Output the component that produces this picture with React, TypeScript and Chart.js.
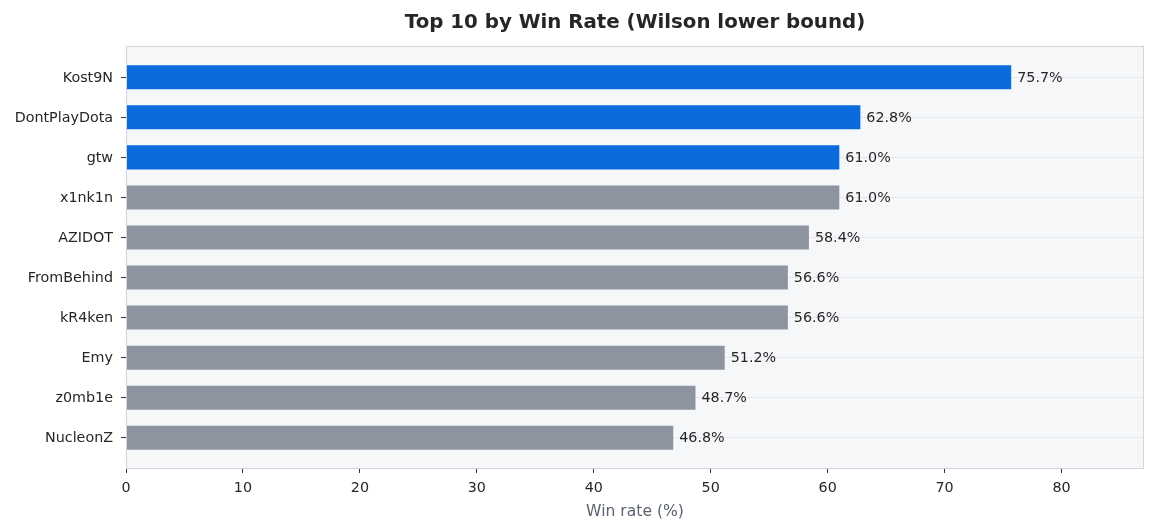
import React, { useEffect, useRef } from "react";
import { Chart, registerables } from "chart.js";

Chart.register(...registerables);

const players = ["Kost9N", "DontPlayDota", "gtw", "x1nk1n", "AZIDOT", "FromBehind", "kR4ken", "Emy", "z0mb1e", "NucleonZ"];
const winRates = [75.7, 62.8, 61.0, 61.0, 58.4, 56.6, 56.6, 51.2, 48.7, 46.8];
const highlightCount = 3;
const xTicks = [0, 10, 20, 30, 40, 50, 60, 70, 80];

const FONT = "'DejaVu Sans', sans-serif";
const BLUE = "#0b6bdc";
const GRAY = "#8e949f";

const W = 1157;
const H = 531;
const AREA = { left: 126, right: 1144, top: 46, bottom: 469 };

export default function App() {
  const ref = useRef<HTMLCanvasElement | null>(null);

  useEffect(() => {
    const canvas = ref.current;
    if (!canvas) return;

    const bgPlugin = {
      id: "plotBg",
      beforeDraw(chart: any) {
        const { ctx, chartArea } = chart;
        ctx.save();
        ctx.fillStyle = "#f6f7f9";
        ctx.fillRect(chartArea.left, chartArea.top, chartArea.right - chartArea.left, chartArea.bottom - chartArea.top);
        ctx.restore();
      },
      afterDraw(chart: any) {
        const { ctx, chartArea } = chart;
        ctx.save();
        ctx.strokeStyle = "#d0d6e0";
        ctx.lineWidth = 1;
        ctx.strokeRect(chartArea.left + 0.5, chartArea.top + 0.5, chartArea.right - chartArea.left - 1, chartArea.bottom - chartArea.top - 1);
        ctx.restore();
      },
    };

    const labelPlugin = {
      id: "valueLabels",
      afterDatasetsDraw(chart: any) {
        const { ctx } = chart;
        const xs = chart.scales.x;
        const ys = chart.scales.y;
        ctx.save();
        ctx.font = `14.3px ${FONT}`;
        ctx.fillStyle = "#262626";
        ctx.textAlign = "left";
        ctx.textBaseline = "middle";
        winRates.forEach((v, i) => {
          ctx.fillText(`${v.toFixed(1)}%`, xs.getPixelForValue(v) + 6, ys.getPixelForValue(i) + 1);
        });
        ctx.restore();
      },
    };

    const chart = new Chart(canvas, {
      type: "bar",
      data: {
        datasets: [
          {
            data: winRates.map((v, i) => ({ x: v, y: i })),
            backgroundColor: winRates.map((_, i) => (i < highlightCount ? BLUE : GRAY)),
            borderWidth: 0,
            barPercentage: 0.6,
            categoryPercentage: 1,
          },
        ],
      },
      options: {
        indexAxis: "y",
        responsive: false,
        animation: false,
        layout: { padding: { left: 0, right: W - AREA.right, top: 0, bottom: 0 } },
        plugins: {
          legend: { display: false },
          tooltip: { enabled: false },
          title: {
            display: true,
            text: "Top 10 by Win Rate (Wilson lower bound)",
            fullSize: false,
            color: "#262626",
            font: { family: FONT, size: 19.8, weight: "bold", lineHeight: 1.2 },
            padding: { top: 10.5, bottom: 46 - 10.5 - 19.8 * 1.2 },
          },
        },
        scales: {
          x: {
            type: "linear",
            min: 0,
            max: 75.7 * 1.15,
            afterBuildTicks(scale: any) {
              scale.ticks = xTicks.map((v) => ({ value: v }));
            },
            afterFit(scale: any) {
              scale.height = H - AREA.bottom;
            },
            border: { display: false },
            grid: { drawOnChartArea: false, drawTicks: true, tickLength: 4, tickColor: "#333", offset: false },
            ticks: { color: "#262626", font: { family: FONT, size: 14.3 }, padding: 7, maxRotation: 0 },
            title: {
              display: true,
              text: "Win rate (%)",
              color: "#5b6270",
              font: { family: FONT, size: 15.6 },
              padding: { top: 4, bottom: 10 },
            },
          },
          y: {
            type: "linear",
            reverse: true,
            offset: false,
            min: -0.78,
            max: 9.78,
            afterBuildTicks(scale: any) {
              scale.ticks = players.map((_, i) => ({ value: i }));
            },
            afterFit(scale: any) {
              scale.width = AREA.left;
            },
            border: { display: false },
            grid: { color: "#e5e8ee", lineWidth: 1, drawTicks: true, tickLength: 5, tickColor: "#333", offset: false },
            ticks: {
              color: "#262626",
              font: { family: FONT, size: 14.3 },
              padding: 8,
              labelOffset: 1,
              autoSkip: false,
              callback: (v: any) => players[v as number] ?? "",
            },
          },
        },
      },
      plugins: [bgPlugin, labelPlugin],
    });

    return () => chart.destroy();
  }, []);

  return (
    <div style={{ position: "fixed", left: 0, top: 0, width: W, height: H, background: "#fff" }}>
      <canvas ref={ref} width={W} height={H} style={{ display: "block" }} />
    </div>
  );
}
